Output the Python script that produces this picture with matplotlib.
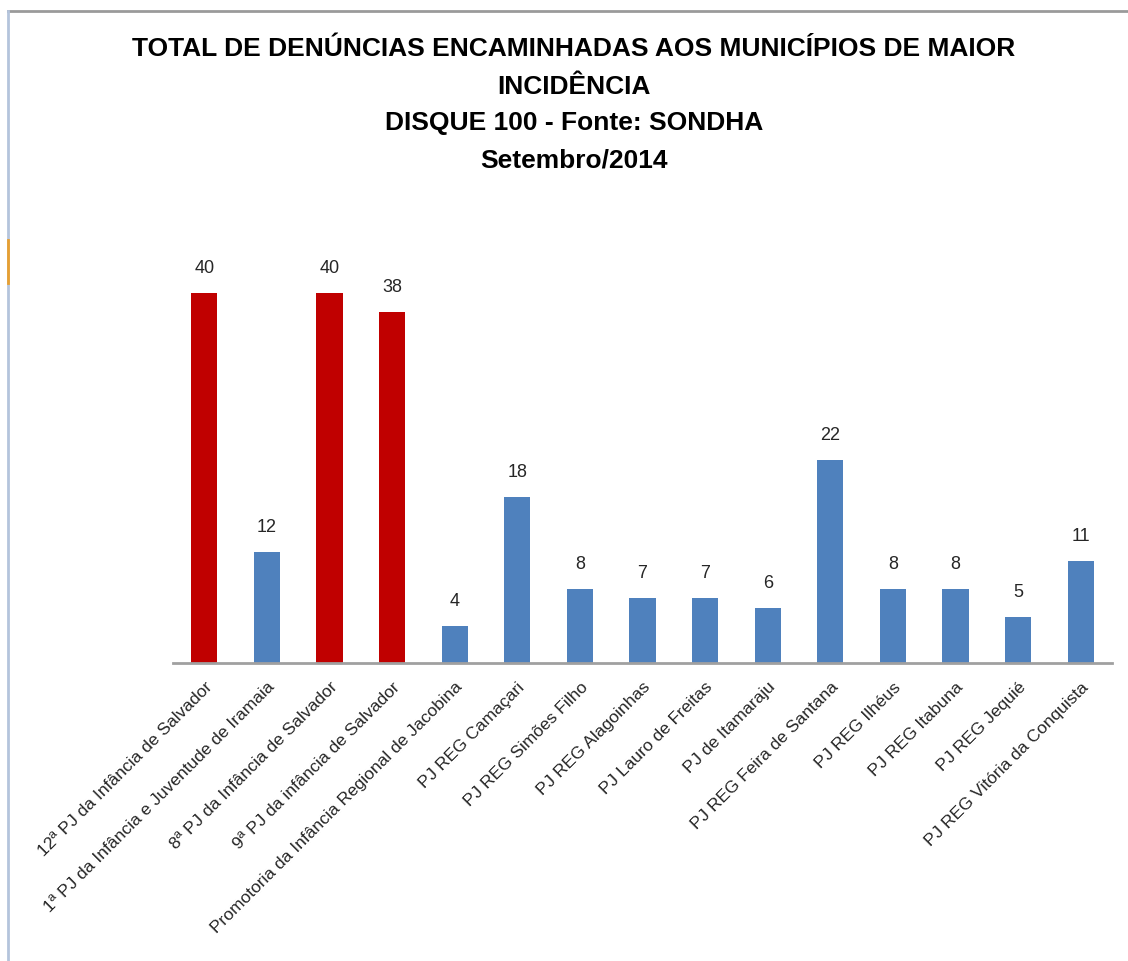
import matplotlib.pyplot as plt
from matplotlib.lines import Line2D

categorias = ['12ª PJ da Infância de Salvador',
              '1ª PJ da Infância e Juventude de Iramaia',
              '8ª PJ da Infância de Salvador',
              '9ª PJ da infância de Salvador',
              'Promotoria da Infância Regional de Jacobina',
              'PJ REG Camaçari',
              'PJ REG Simões Filho',
              'PJ REG Alagoinhas',
              'PJ Lauro de Freitas',
              'PJ de Itamaraju',
              'PJ REG Feira de Santana',
              'PJ REG Ilhéus',
              'PJ REG Itabuna',
              'PJ REG Jequié',
              'PJ REG Vitória da Conquista']
denuncias = [40, 12, 40, 38, 4, 18, 8, 7, 7, 6, 22, 8, 8, 5, 11]
destaque = [True, False, True, True] + [False] * 11

titulo = ['TOTAL DE DENÚNCIAS ENCAMINHADAS AOS MUNICÍPIOS DE MAIOR',
          'INCIDÊNCIA',
          'DISQUE 100 - Fonte: SONDHA',
          'Setembro/2014']

plt.rcParams['font.family'] = ['Liberation Sans', 'DejaVu Sans']

W, H = 1128, 961
fig = plt.figure(figsize=(W / 100, H / 100), dpi=100)

# eixo: linha de base em y=663 px, 9.25 px por unidade
ymax = 45
left, right = 173 / W, 1112 / W
bottom = (H - 663) / H
height = ymax * 9.25 / H
ax = fig.add_axes([left, bottom, right - left, height])

cores = ['#C00000' if d else '#4F81BD' for d in destaque]
x = range(len(categorias))
barras = ax.bar(x, denuncias, width=0.42, color=cores)
for b, v in zip(barras, denuncias):
    ax.annotate(str(v), (b.get_x() + b.get_width() / 2, v), xytext=(0, 11.5),
                textcoords='offset points', ha='center', va='bottom',
                fontsize=13, color='#262626')

ax.set_xlim(-0.5, len(categorias) - 0.5)
ax.set_ylim(0, ymax)
ax.set_yticks([])
ax.set_xticks(list(x))
ax.set_xticklabels(categorias, rotation=45, ha='right', rotation_mode='anchor',
                   fontsize=12.5, color='#262626')
ax.tick_params(axis='x', length=0, pad=12)
for s in ['top', 'right', 'left']:
    ax.spines[s].set_visible(False)
ax.spines['bottom'].set_color('#A0A0A0')
ax.spines['bottom'].set_linewidth(2)

# título
ys = [49, 87, 123, 161]
for t, yy in zip(titulo, ys):
    fig.text(574 / W, 1 - yy / H, t, ha='center', va='center',
             fontsize=19, fontweight='bold', color='black')

# bordas do gráfico
fig.add_artist(Line2D([8 / W, 1], [1 - 11 / H, 1 - 11 / H], color='#9A9A9A', lw=2))
fig.add_artist(Line2D([8 / W, 8 / W], [0, 1 - 11 / H], color='#B4C4DC', lw=2))
fig.add_artist(Line2D([8 / W, 8 / W], [1 - 240 / H, 1 - 283 / H], color='#E8A030', lw=2))

fig.savefig('out.png', dpi=100, facecolor='white')
